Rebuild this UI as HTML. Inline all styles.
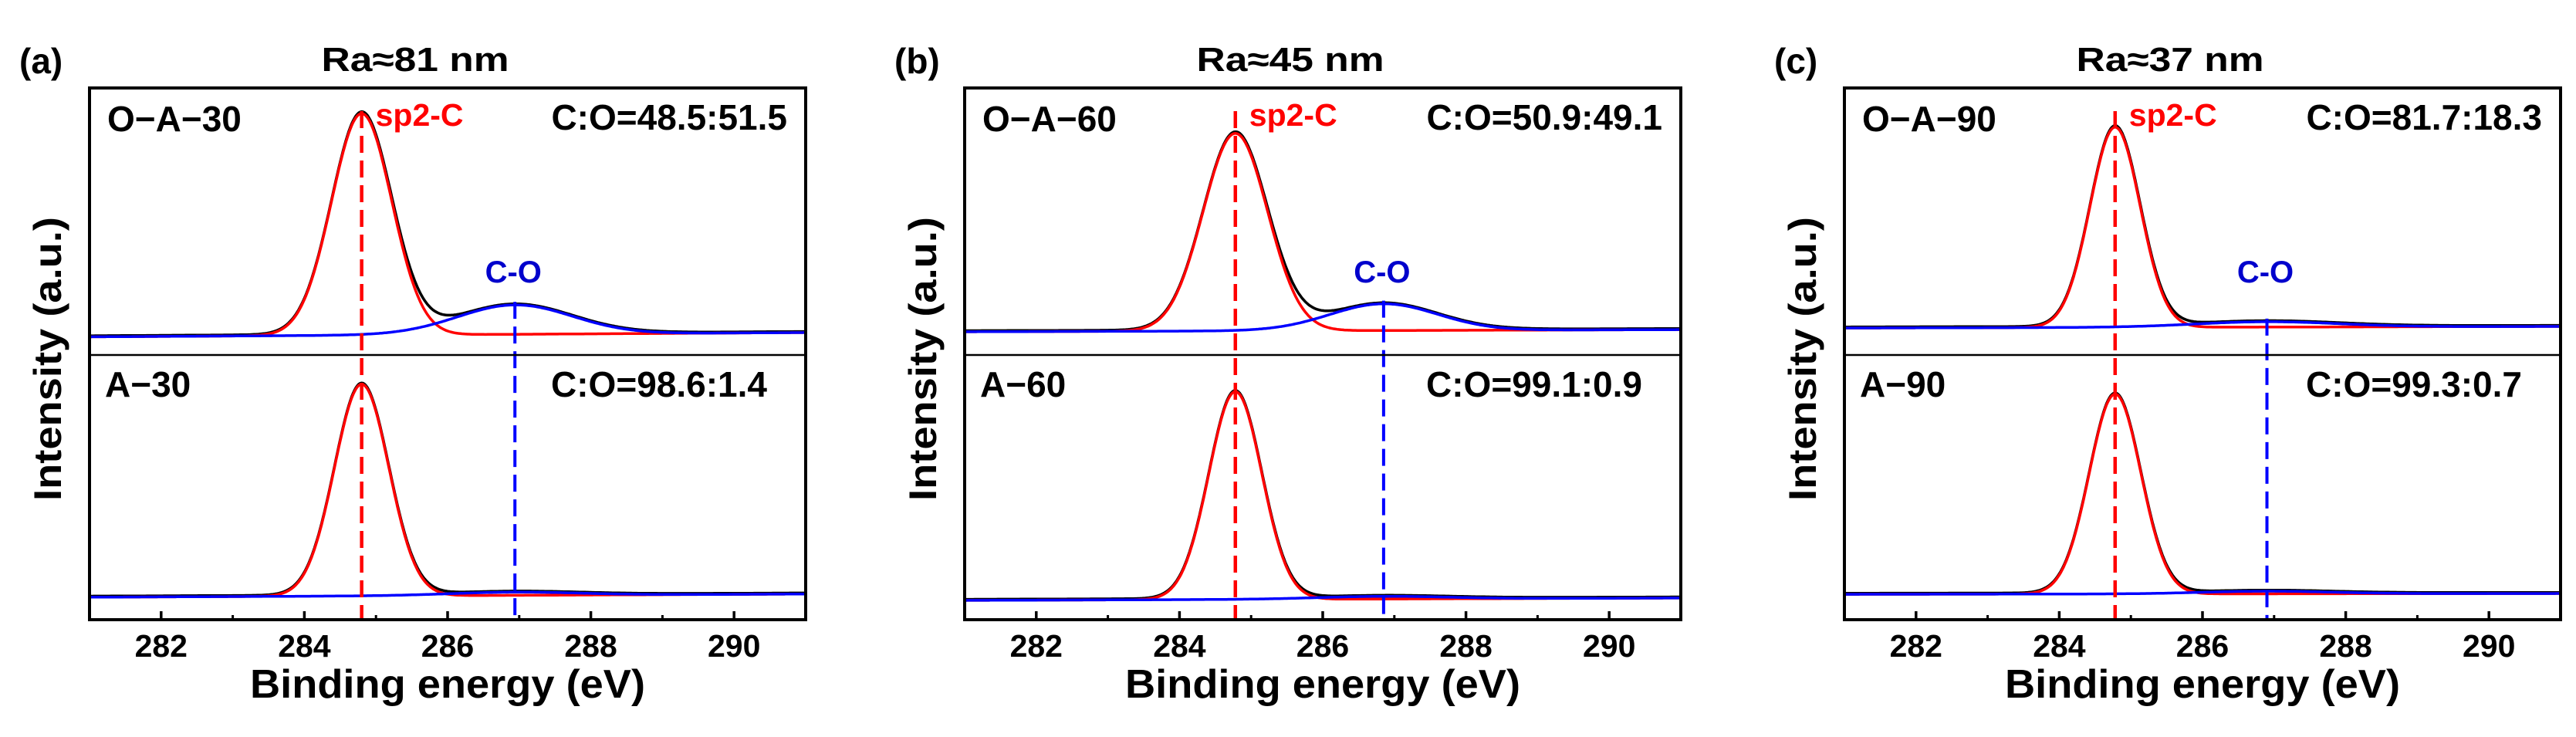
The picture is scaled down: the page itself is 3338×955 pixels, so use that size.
<!DOCTYPE html>
<html><head><meta charset="utf-8">
<style>
html,body{margin:0;padding:0;background:#fff;}
svg{display:block;font-family:"Liberation Sans",Arial,sans-serif;font-weight:bold;}
</style></head>
<body>
<svg id="chart" width="3338" height="955" viewBox="0 0 3338 955" xmlns="http://www.w3.org/2000/svg"></svg>
<script>
// ---- data ----
const panelLetters = ["(a)", "(b)", "(c)"];
const raTitles = ["Ra≈81 nm", "Ra≈45 nm", "Ra≈37 nm"];
const sampleUpper = ["O−A−30", "O−A−60", "O−A−90"];
const sampleLower = ["A−30", "A−60", "A−90"];
const ratioUpper = ["C:O=48.5:51.5", "C:O=50.9:49.1", "C:O=81.7:18.3"];
const ratioLower = ["C:O=98.6:1.4", "C:O=99.1:0.9", "C:O=99.3:0.7"];
const xTicks = [282, 284, 286, 288, 290];
const xMinorTicks = [283, 285, 287, 289];
const sp2Center = [284.8, 284.78, 284.78];
const coCenter = [286.94, 286.85, 286.9];
const sp2AmpUpper = [0.83, 0.74, 0.75];
const sp2SigUpper = [0.42, 0.45, 0.35];
const coAmpUpper = [0.11, 0.10, 0.02];
const coSigUpper = [0.8, 0.75, 1.0];
const bgLeftUpper = [0.068, 0.087, 0.101];
const bgRightUpper = [0.084, 0.095, 0.107];
const sp2AmpLower = [0.80, 0.785, 0.755];
const sp2SigLower = [0.38, 0.37, 0.36];
const coAmpLower = [0.012, 0.01, 0.01];
const coSigLower = [0.9, 0.9, 0.9];
const bgLeftLower = [0.085, 0.073, 0.096];
const bgRightLower = [0.097, 0.082, 0.099];

// ---- layout ----
const NS = "http://www.w3.org/2000/svg";
const svg = document.getElementById("chart");
const plotLefts = [116, 1250, 2390];
const plotW = 928, plotTop = 114, plotDiv = 460, plotBot = 803;
const xMin = 281, xMax = 291;

function mk(tag, attrs, parent) {
  const e = document.createElementNS(NS, tag);
  for (const k in attrs) e.setAttribute(k, attrs[k]);
  (parent || svg).appendChild(e);
  return e;
}
function gauss(x, c, a, s) { return a * Math.exp(-0.5 * ((x - c) / s) ** 2); }

for (let p = 0; p < 3; p++) {
  const L = plotLefts[p];
  const xs = v => L + (v - xMin) / (xMax - xMin) * plotW;
  const ysU = v => plotDiv - v * (plotDiv - plotTop);
  const ysL = v => plotBot - v * (plotBot - plotDiv);
  const g = mk("g", {});
  
  

  const subs = [
    {ys: ysU, amp: sp2AmpUpper[p], sig: sp2SigUpper[p], coA: coAmpUpper[p], coS: coSigUpper[p], bl: bgLeftUpper[p], br: bgRightUpper[p], nm: 'upper'},
    {ys: ysL, amp: sp2AmpLower[p], sig: sp2SigLower[p], coA: coAmpLower[p], coS: coSigLower[p], bl: bgLeftLower[p], br: bgRightLower[p], nm: 'lower'}
  ];
  let coPeakY = 395;
  subs.forEach(s => {
    const bg = x => s.bl + (s.br - s.bl) * (x - xMin) / (xMax - xMin);
    let dRed = "", dBlue = "", dBlack = "";
    for (let i = 0; i <= 500; i++) {
      const x = xMin + (xMax - xMin) * i / 500;
      const r = bg(x) + gauss(x, sp2Center[p], s.amp, s.sig);
      const b = bg(x) + gauss(x, coCenter[p], s.coA, s.coS);
      const k = bg(x) + gauss(x, sp2Center[p], s.amp, s.sig) + gauss(x, coCenter[p], s.coA, s.coS) + 0.004;
      const c = i ? "L" : "M";
      dRed += c + xs(x).toFixed(1) + "," + s.ys(r).toFixed(1);
      dBlue += c + xs(x).toFixed(1) + "," + s.ys(b).toFixed(1);
      dBlack += c + xs(x).toFixed(1) + "," + s.ys(k).toFixed(1);
    }
    if (s.nm === 'upper') coPeakY = s.ys(bg(coCenter[p]) + s.coA);
    const k = mk("path", {d: dBlack, fill: "none", stroke: "#000", "stroke-width": 3.5}, g);
    
    
    const r = mk("path", {d: dRed, fill: "none", stroke: "#f00", "stroke-width": 3.5}, g);
    
    
    const b = mk("path", {d: dBlue, fill: "none", stroke: "#00f", "stroke-width": 3.5}, g);
    
    
  });

  // dashed markers
  const rl = mk("line", {x1: xs(sp2Center[p]), x2: xs(sp2Center[p]), y1: plotTop + 30, y2: plotBot, stroke: "#f00", "stroke-width": 4.5, "stroke-dasharray": "22,10"}, g);
  
  
  const bl = mk("line", {x1: xs(coCenter[p]), x2: xs(coCenter[p]), y1: coPeakY - 4, y2: plotBot, stroke: "#00f", "stroke-width": 4, "stroke-dasharray": "22,10"}, g);
  
  

  // frame
  const fr = mk("rect", {x: L, y: plotTop, width: plotW, height: plotBot - plotTop, fill: "none", stroke: "#000", "stroke-width": 4}, g);
  
  
  const dv = mk("line", {x1: L, x2: L + plotW, y1: plotDiv, y2: plotDiv, stroke: "#000", "stroke-width": 2.5}, g);
  
  

  xTicks.forEach(t => {
    const tl = mk("line", {x1: xs(t), x2: xs(t), y1: plotBot, y2: plotBot - 11, stroke: "#000", "stroke-width": 3.5}, g);
    
    
    const tx = mk("text", {x: xs(t), y: 851, "text-anchor": "middle", "font-size": 41}, g);
    tx.textContent = t;
    
    
  });
  xMinorTicks.forEach(t => {
    const tl = mk("line", {x1: xs(t), x2: xs(t), y1: plotBot, y2: plotBot - 6, stroke: "#000", "stroke-width": 3}, g);
    
    
  });

  const texts = [
    {t: panelLetters[p], x: L - 91, y: 95, fs: 46, a: "start", c: "#000", n: 'panel-letter'},
    {t: raTitles[p], x: L + plotW / 2 - 42, y: 92, fs: 44, a: "middle", c: "#000", n: 'panel-title', tl: 243},
    {t: sampleUpper[p], x: L + 23, y: 170, fs: 46, a: "start", c: "#000", n: 'upper-sample-label'},
    {t: sampleLower[p], x: L + 20, y: 514, fs: 46, a: "start", c: "#000", n: 'lower-sample-label'},
    {t: ratioUpper[p], x: L + plotW - 24, y: 168, fs: 46, a: "end", c: "#000", n: 'upper-co-ratio'},
    {t: ratioLower[p], x: L + plotW - 50, y: 514, fs: 46, a: "end", c: "#000", n: 'lower-co-ratio'},
    {t: "sp2-C", x: xs(sp2Center[p]) + 18, y: 163, fs: 41, a: "start", c: "#f00", n: 'sp2-c-label'},
    {t: "C-O", x: xs(coCenter[p]) - 2, y: 366, fs: 40, a: "middle", c: "#0000cc", n: 'c-o-label'},
    {t: "Binding energy (eV)", x: L + plotW / 2, y: 904, fs: 52, a: "middle", c: "#000", n: 'x-axis-title', tl: 512}
  ];
  texts.forEach(o => {
    const e = mk("text", {x: o.x, y: o.y, "font-size": o.fs, "text-anchor": o.a, fill: o.c}, g);
    if (o.tl) { e.setAttribute("textLength", o.tl); e.setAttribute("lengthAdjust", "spacingAndGlyphs"); }
    e.textContent = o.t;
    
    
  });
  const yl = mk("text", {x: 0, y: 0, "font-size": 50, "text-anchor": "middle", transform: "translate(" + (L - 37) + ",465) rotate(-90)", textLength: 368, lengthAdjust: "spacingAndGlyphs"}, g);
  yl.textContent = "Intensity (a.u.)";
  
  
}
</script>
</body></html>
